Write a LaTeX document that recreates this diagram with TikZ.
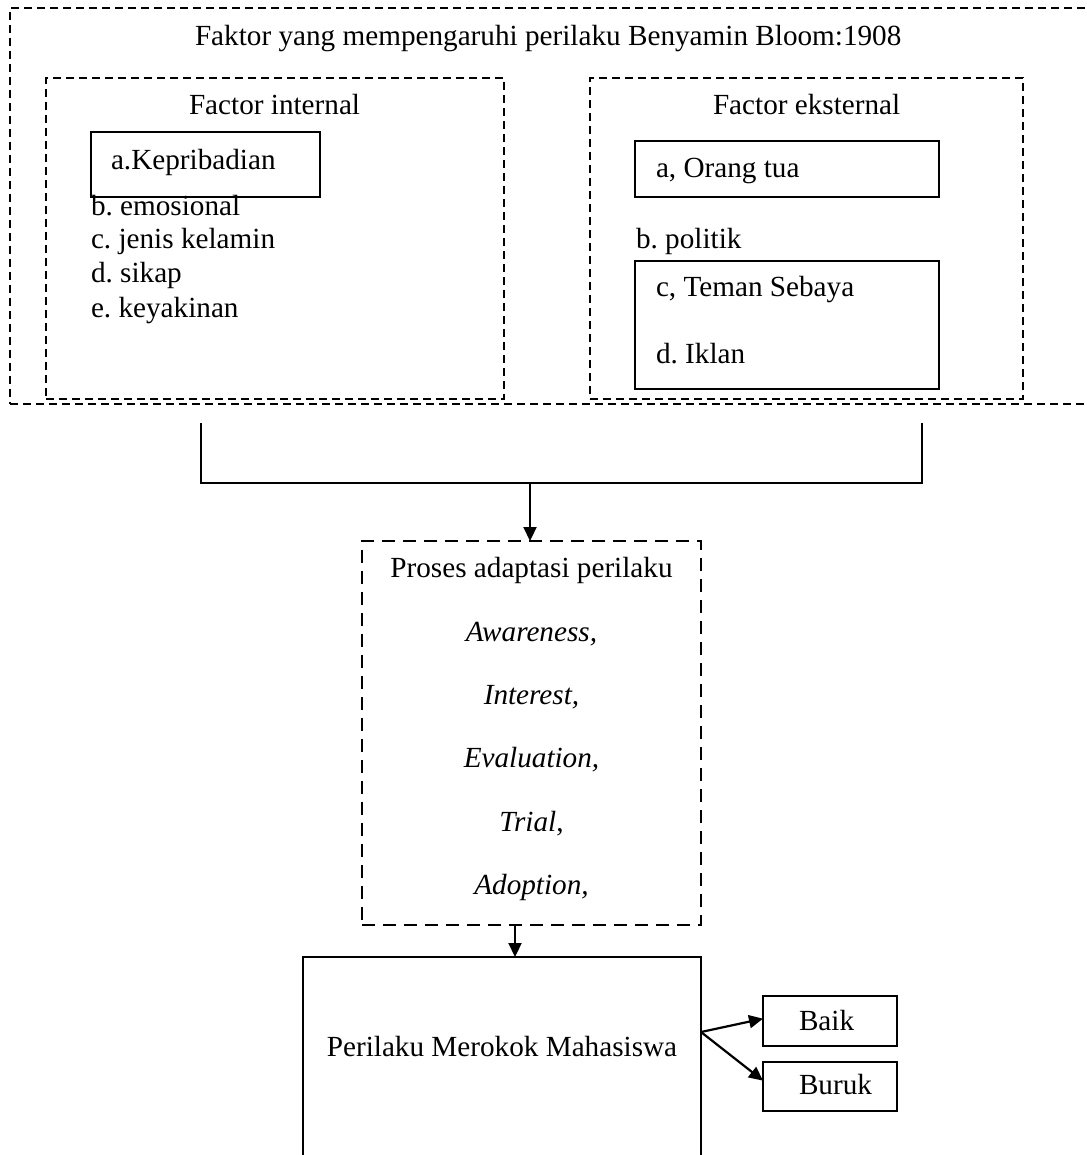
\documentclass[tikz,border=0pt]{standalone}
\usepackage{fontspec}
\setmainfont{Liberation Serif}
\usetikzlibrary{arrows.meta}
\frenchspacing
\begin{document}
\begin{tikzpicture}[x=1pt,y=-1pt,
  every node/.style={font=\fontsize{29.2}{34}\selectfont, inner sep=0pt, outer sep=0pt},
  dbox/.style={draw, line width=1.9pt, dash pattern=on 8pt off 5pt, anchor=north west},
  pbox/.style={draw, line width=2pt, dash pattern=on 13pt off 8pt, anchor=north west},
  sbox/.style={draw, line width=2.2pt, anchor=north west},
  lbl/.style={anchor=base west},
  clbl/.style={anchor=base},
  conn/.style={line width=2pt},
  arr/.style={line width=2.2pt, -{Triangle[length=14pt,width=13pt]}}
]
\useasboundingbox (0,0) rectangle (1086,1155);
\clip (0,0) rectangle (1086,1155);

% boxes
\node[dbox, minimum width=1100pt, minimum height=396pt] (outer) at (10,8) {};
\node[dbox, minimum width=458pt, minimum height=321pt] (intbox) at (46,78) {};
\node[dbox, minimum width=433pt, minimum height=321pt] (extbox) at (590,78) {};
\node[sbox, minimum width=229pt, minimum height=65pt] (kepbox) at (91,132) {};
\node[sbox, minimum width=304pt, minimum height=56pt] (orangbox) at (635,141) {};
\node[sbox, minimum width=304pt, minimum height=128pt] (temanbox) at (635,261) {};
\node[pbox, minimum width=339pt, minimum height=384pt] (proc) at (362,541) {};
\node[sbox, minimum width=398pt, minimum height=230pt] (res) at (303,957) {};
\node[sbox, minimum width=134pt, minimum height=50pt] (baik) at (763,996) {};
\node[sbox, minimum width=134pt, minimum height=49pt] (buruk) at (763,1062) {};

% texts
\node[lbl] (title) at (195,46) {Faktor yang mempengaruhi perilaku Benyamin Bloom:1908};
\node[lbl] (inttitle) at (189,115) {Factor internal};
\node[lbl] (ia) at (111,170) {a.Kepribadian};
\node[lbl] (ib) at (91,216) {b. emosional};
\node[lbl] (ic) at (91,249) {c. jenis kelamin};
\node[lbl] (id) at (91,283) {d. sikap};
\node[lbl] (ie) at (91,317) {e. keyakinan};
\node[lbl] (exttitle) at (713,115) {Factor eksternal};
\node[lbl] (ea) at (656,178) {a, Orang tua};
\node[lbl] (eb) at (636,249) {b. politik};
\node[lbl] (ec) at (656,297) {c, Teman Sebaya};
\node[lbl] (ed) at (656,363) {d. Iklan};

\node[clbl] (p0) at (531.5,577) {Proses adaptasi perilaku};
\node[clbl] (p1) at (531.5,641) {\itshape Awareness,};
\node[clbl] (p2) at (531.5,704) {\itshape Interest,};
\node[clbl] (p3) at (531.5,767) {\itshape Evaluation,};
\node[clbl] (p4) at (531.5,831) {\textit{Trial},};
\node[clbl] (p5) at (531.5,894) {\itshape Adoption,};

\node[clbl] (restext) at (502,1056) {Perilaku Merokok Mahasiswa};
\node[lbl] (baiktext) at (799,1030) {Baik};
\node[lbl] (buruktext) at (799,1094) {Buruk};

% connectors
\coordinate (jl) at (201,423);
\coordinate (jr) at (922,423);
\coordinate (jbl) at (201,483);
\coordinate (jbr) at (922,483);
\coordinate (jm) at (530,483);
\draw[conn] (jl) -- (jbl) -- (jbr) -- (jr);
\draw[arr] (jm) -- (jm |- proc.north);
\coordinate (pout) at (515,925);
\draw[arr] (pout) -- (pout |- res.north);
\coordinate (rout) at (701,1032);
\draw[arr] (rout) -- (baik.178);
\draw[arr] (rout) -- (buruk.175);
\end{tikzpicture}
\end{document}
